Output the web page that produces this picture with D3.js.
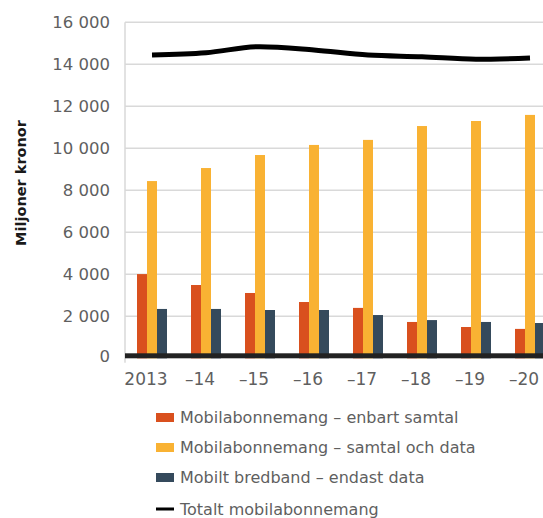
<!DOCTYPE html>
<html><head><meta charset="utf-8">
<script src="https://cdn.jsdelivr.net/npm/d3@7"></script>
<style>body{margin:0;background:#fff;overflow:hidden}svg{display:block}</style>
</head><body>
<svg id="chart" width="543" height="518"></svg>
<script>
const categories = ["2013","–14","–15","–16","–17","–18","–19","–20"];
const enbartSamtal = [4010, 3490, 3110, 2680, 2400, 1730, 1490, 1400];
const samtalOchData = [8440, 9060, 9680, 10160, 10400, 11060, 11300, 11590];
const endastData = [2350, 2350, 2300, 2300, 2060, 1820, 1730, 1680];
const totalt = [14440, 14550, 14840, 14680, 14440, 14360, 14240, 14300];
const yTicks = [0, 2000, 4000, 6000, 8000, 10000, 12000, 14000, 16000];
const seriesNames = ["Mobilabonnemang – enbart samtal","Mobilabonnemang – samtal och data","Mobilt bredband – endast data","Totalt mobilabonnemang"];
const colors = ["#d9501e","#f9b233","#354a5c","#000000"];

(function(){
const svg = d3.select("#chart");
const mLeft = 125, mTop = 22.3, mBottom = 358.3;
const x = d3.scaleBand().domain(categories).range([mLeft, mLeft + 8*54]).paddingInner(0).paddingOuter(0);
const y = d3.scaleLinear().domain([0,16000]).range([mBottom, mTop]);
const sub = d3.scaleBand().domain([0,1,2]).range([x.bandwidth()/2 - 15, x.bandwidth()/2 + 15]);

// gridlines
svg.append("g").selectAll("line").data(yTicks.filter(d=>d>0)).join("line")
  .attr("x1", mLeft).attr("x2", 543).attr("y1", d=>y(d)).attr("y2", d=>y(d))
  .attr("stroke", "#d9d9d9").attr("stroke-width", 1.5);
// left axis line
svg.append("line").attr("x1", mLeft).attr("x2", mLeft).attr("y1", mTop).attr("y2", mBottom+4.5)
  .attr("stroke", "#d9d9d9").attr("stroke-width", 1.5);

// y tick labels
svg.append("g").selectAll("text").data(yTicks).join("text")
  .attr("x", 110).attr("y", d=>y(d) - (d===0 ? 2 : 0)).attr("dy", "0.36em")
  .attr("text-anchor", "end").attr("fill", "#5f5f5f")
  .style("font-family", "DejaVu Sans").style("font-size", "16.5px")
  .text(d => d3.format(",")(d).replace(/,/g, " "));

// bars
const seriesVals = [enbartSamtal, samtalOchData, endastData];
seriesVals.forEach((vals, si) => {
  svg.append("g").selectAll("rect").data(vals).join("rect")
    .attr("x", (d,i) => x(categories[i]) + sub(si))
    .attr("width", sub.bandwidth())
    .attr("y", d => y(d))
    .attr("height", d => y(0) - y(d))
    .attr("fill", colors[si]);
});

// baseline
svg.append("rect").attr("x", mLeft).attr("width", 543-mLeft).attr("y", y(0)-5).attr("height", 5).attr("fill", "#222");

// total line
const line = d3.line().x((d,i)=>x(categories[i]) + x.bandwidth()/2).y(d=>y(d)).curve(d3.curveMonotoneX);
svg.append("path").datum(totalt).attr("d", line).attr("fill","none").attr("stroke","#000").attr("stroke-width",5);

// x labels
svg.append("g").selectAll("text").data(categories).join("text")
  .attr("x", d => x(d) + x.bandwidth()/2 - 6).attr("y", 385)
  .attr("text-anchor", "middle").attr("fill", "#5f5f5f")
  .style("font-family", "DejaVu Sans").style("font-size", "17px")
  .text(d => d);

// y title
svg.append("text").attr("transform", "translate(26,183) rotate(-90)")
  .attr("text-anchor", "middle").attr("fill", "#1a1a1a")
  .style("font-family", "DejaVu Sans").style("font-weight", "bold").style("font-size", "14.5px")
  .text("Miljoner kronor");

// legend
const lg = svg.append("g").selectAll("g").data(seriesNames).join("g")
  .attr("transform", (d,i) => `translate(156,${417.5 + i*30 + (i===3 ? 1.5 : 0)})`);
lg.append("rect").attr("x", 0).attr("width", 18)
  .attr("y", (d,i)=> i===3 ? -1.5 : -4.5).attr("height", (d,i)=> i===3 ? 3 : 9)
  .attr("fill", (d,i)=>colors[i]);
lg.append("text").attr("x", 24).attr("dy", "0.36em").attr("fill", "#5f5f5f")
  .style("font-family", "DejaVu Sans").style("font-size", "16px").text(d=>d);
})();
</script>
</body></html>
